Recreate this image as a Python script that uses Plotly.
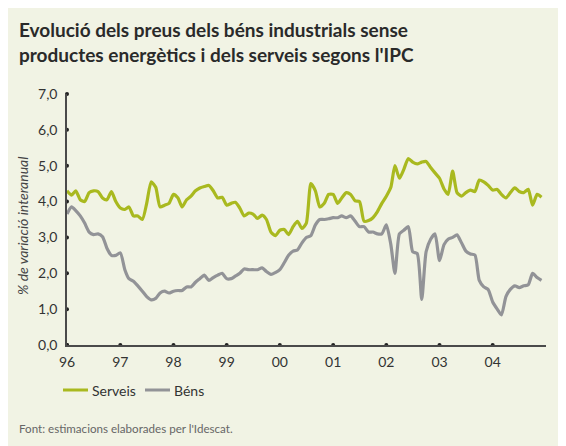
import pandas as pd
import plotly.graph_objects as go

# ---------------- data ----------------
months = pd.date_range("1996-01-01", periods=108, freq="MS")

serveis = [4.30, 4.18, 4.30, 4.05, 4.00, 4.25, 4.30, 4.28, 4.10, 4.05, 4.28, 4.00,
           3.82, 3.78, 3.85, 3.60, 3.60, 3.50, 3.95, 4.55, 4.40, 3.85, 3.90, 3.95,
           4.20, 4.10, 3.85, 4.05, 4.15, 4.30, 4.38, 4.42, 4.45, 4.30, 4.10, 4.12,
           3.90, 3.95, 3.98, 3.82, 3.60, 3.68, 3.65, 3.53, 3.62, 3.50, 3.15, 3.05,
           3.20, 3.22, 3.08, 3.30, 3.45, 3.25, 3.40, 4.50, 4.30, 3.85, 3.95, 4.20,
           4.20, 3.95, 4.10, 4.25, 4.20, 4.02, 4.00, 3.45, 3.47, 3.55, 3.72, 3.95,
           4.15, 4.40, 5.00, 4.65, 4.90, 5.20, 5.10, 5.05, 5.10, 5.12, 4.95, 4.80,
           4.65, 4.35, 4.20, 4.85, 4.25, 4.15, 4.25, 4.32, 4.28, 4.60, 4.55, 4.45,
           4.32, 4.34, 4.20, 4.10, 4.25, 4.38, 4.28, 4.25, 4.34, 3.90, 4.20, 4.12]

bens = [3.65, 3.85, 3.75, 3.60, 3.40, 3.15, 3.08, 3.10, 3.02, 2.70, 2.50, 2.50,
        2.57, 2.10, 1.85, 1.78, 1.65, 1.50, 1.35, 1.26, 1.30, 1.45, 1.50, 1.45,
        1.50, 1.52, 1.52, 1.62, 1.62, 1.75, 1.85, 1.95, 1.80, 1.88, 1.95, 2.00,
        1.85, 1.85, 1.92, 2.00, 2.12, 2.10, 2.10, 2.10, 2.15, 2.05, 1.97, 2.02,
        2.10, 2.30, 2.50, 2.62, 2.65, 2.85, 3.00, 3.05, 3.35, 3.50, 3.50, 3.52,
        3.55, 3.55, 3.60, 3.55, 3.60, 3.45, 3.30, 3.30, 3.15, 3.15, 3.10, 3.10,
        3.35, 2.80, 2.00, 3.10, 3.20, 3.30, 2.60, 2.55, 1.27, 2.60, 2.95, 3.10,
        2.35, 2.80, 2.95, 3.00, 3.07, 2.85, 2.62, 2.54, 2.51, 1.80, 1.62, 1.55,
        1.20, 1.00, 0.84, 1.35, 1.55, 1.65, 1.60, 1.65, 1.68, 2.00, 1.88, 1.80]

year_ticks = pd.date_range("1996-01-01", periods=9, freq="YS")
year_labels = ["96", "97", "98", "99", "00", "01", "02", "03", "04"]
y_ticks = [0, 1, 2, 3, 4, 5, 6, 7]
y_labels = ["0,0", "1,0", "2,0", "3,0", "4,0", "5,0", "6,0", "7,0"]

title_text = ("Evolució dels preus dels béns industrials sense<br>"
              "productes energètics i dels serveis segons l'IPC")
y_title = "% de variació interanual"
source_text = "Font: estimacions elaborades per l'Idescat."

# ---------------- style ----------------
BG = "#f1f3e4"
GREEN = "#a9b91f"
GREY = "#929397"
AXIS = "#4a4a4a"
FONT = "Lato"

OFF = 8  # the page body margin shifts the figure by 8 px
W, H = 566 - OFF, 446 - OFF
L, R, T, B = 67 - OFF, 20, 94 - OFF, 101
pw, ph = W - L - R, H - T - B


def px(xp):
    # window pixel -> paper x
    return (xp - OFF - L) / pw


def py(yp):
    # window pixel -> paper y
    return (H - B - (yp - OFF)) / ph


fig = go.Figure()

fig.add_trace(go.Scatter(x=months, y=serveis, mode="lines", name="Serveis",
                         line=dict(color=GREEN, width=3.2, shape="spline", smoothing=0.6),
                         showlegend=False))
fig.add_trace(go.Scatter(x=months, y=bens, mode="lines", name="Béns",
                         line=dict(color=GREY, width=3.2, shape="spline", smoothing=0.6),
                         showlegend=False))

# tick dots on the axes
fig.add_trace(go.Scatter(x=list(year_ticks), y=[0] * len(year_ticks), mode="markers",
                         marker=dict(color="#222", size=4), cliponaxis=False,
                         showlegend=False, hoverinfo="skip"))
fig.add_trace(go.Scatter(x=[year_ticks[0]] * len(y_ticks), y=y_ticks, mode="markers",
                         marker=dict(color="#222", size=4), cliponaxis=False,
                         showlegend=False, hoverinfo="skip"))

fig.update_layout(
    width=W, height=H,
    margin=dict(l=L, r=R, t=T, b=B),
    paper_bgcolor=BG, plot_bgcolor=BG,
    font=dict(family=FONT, color="#333", size=13),
    xaxis=dict(range=["1996-01-01", "2005-01-01"], showgrid=False, zeroline=False,
               showline=True, linecolor=AXIS, linewidth=1.5,
               tickvals=list(year_ticks), ticktext=year_labels,
               ticks="outside", ticklen=3, tickcolor="rgba(0,0,0,0)",
               tickfont=dict(size=14, color="#333")),
    yaxis=dict(range=[0, 7], showgrid=False, zeroline=False,
               showline=True, linecolor=AXIS, linewidth=1.5,
               tickvals=y_ticks, ticktext=y_labels,
               ticks="outside", ticklen=5, tickcolor="rgba(0,0,0,0)",
               tickfont=dict(size=14, color="#333")),
    showlegend=False,
)

shapes = [
    dict(type="line", xref="paper", yref="paper", x0=px(63), x1=px(88), y0=py(390), y1=py(390),
         line=dict(color=GREEN, width=3)),
    dict(type="line", xref="paper", yref="paper", x0=px(145), x1=px(170), y0=py(390), y1=py(390),
         line=dict(color=GREY, width=3)),
]

annotations = [
    dict(text="<b>" + title_text + "</b>", xref="paper", yref="paper", x=px(17), y=py(16),
         xanchor="left", yanchor="top", align="left", showarrow=False,
         font=dict(size=19, color="#2a2a2a")),
    dict(text="Serveis", xref="paper", yref="paper", x=px(90), y=py(390),
         xanchor="left", yanchor="middle", showarrow=False, font=dict(size=14, color="#333")),
    dict(text="Béns", xref="paper", yref="paper", x=px(172), y=py(390),
         xanchor="left", yanchor="middle", showarrow=False, font=dict(size=14, color="#333")),
    dict(text=source_text, xref="paper", yref="paper", x=px(17), y=py(428),
         xanchor="left", yanchor="middle", showarrow=False, font=dict(size=11.6, color="#666")),
    dict(text="<i>" + y_title + "</i>", xref="paper", yref="paper", x=px(22), y=py(226),
         xanchor="center", yanchor="middle", textangle=-90, showarrow=False,
         font=dict(size=14, color="#444")),
]

fig.update_layout(shapes=shapes, annotations=annotations)

fig.write_html("out.html")
